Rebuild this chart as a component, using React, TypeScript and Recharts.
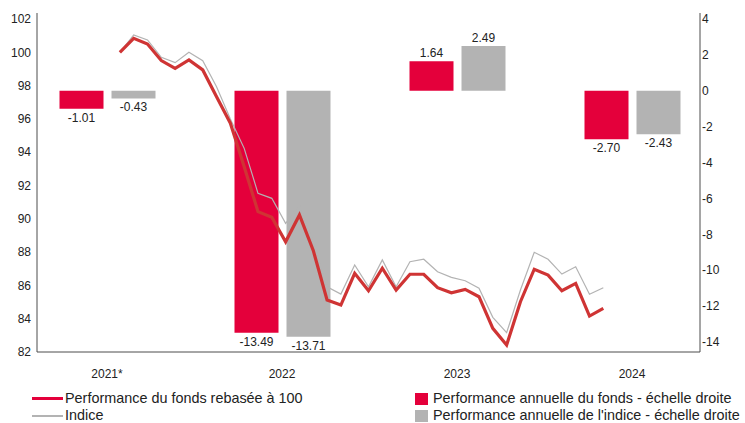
import { ComposedChart, Bar, Line, XAxis, YAxis, LabelList } from "recharts";

// annual performance (right axis)
const years = ["2021*", "2022", "2023", "2024"];
const fundAnnual = [-1.01, -13.49, 1.64, -2.7];
const indexAnnual = [-0.43, -13.71, 2.49, -2.43];

// monthly rebased series (left axis)
const months = [
  "07/2021", "08/2021", "09/2021", "10/2021", "11/2021", "12/2021",
  "01/2022", "02/2022", "03/2022", "04/2022", "05/2022", "06/2022",
  "07/2022", "08/2022", "09/2022", "10/2022", "11/2022", "12/2022",
  "01/2023", "02/2023", "03/2023", "04/2023", "05/2023", "06/2023",
  "07/2023", "08/2023", "09/2023", "10/2023", "11/2023", "12/2023",
  "01/2024", "02/2024", "03/2024", "04/2024", "05/2024", "06/2024",
];
const fundRebased = [
  100, 100.84, 100.5, 99.5, 99.04, 99.54, 98.94, 97.33, 95.74, 93.13, 90.43, 90.09,
  88.62, 90.23, 88.1, 85.12, 84.82, 86.73, 85.68, 87.03, 85.72, 86.67, 86.67, 85.86,
  85.56, 85.76, 85.32, 83.42, 82.42, 85.02, 86.97, 86.62, 85.68, 86.12, 84.16, 84.62,
];
const indexRebased = [
  100, 101.04, 100.74, 99.7, 99.38, 100.0, 99.5, 97.93, 96.0, 94.23, 91.53, 91.23,
  89.73, 90.8, 88.6, 85.92, 85.48, 87.23, 85.92, 87.53, 85.92, 87.42, 87.57, 86.82,
  86.48, 86.28, 85.83, 84.08, 83.16, 85.72, 87.99, 87.57, 86.68, 87.12, 85.47, 85.86,
];

const leftTicks = [82, 84, 86, 88, 90, 92, 94, 96, 98, 100, 102];
const rightTicks = [-14, -12, -10, -8, -6, -4, -2, 0, 2, 4];

const RED = "#e4003b";
const LINE_RED = "#cf3434";
const GREY = "#b3b3b3";
const AXIS = "#4d4d4d";
const FONT = "'Liberation Sans', Arial, sans-serif";

const barData = years.map((y, i) => ({ year: y, fund: fundAnnual[i], index: indexAnnual[i] }));

const lineData = months.map((m, i) => {
  const [mm, yy] = m.split("/").map(Number);
  return { t: (yy - 2021) * 12 + (mm - 1), fund: fundRebased[i], index: indexRebased[i] };
});

function BarLabel(props: any) {
  const { x, y, width, height, value } = props;
  const top = Math.min(y, y + height);
  const bottom = Math.max(y, y + height);
  const ty = value < 0 ? bottom + 13 : top - 4;
  return (
    <text x={x + width / 2} y={ty} textAnchor="middle" fontSize={12} fill="#222" fontFamily={FONT}>
      {value.toFixed(2)}
    </text>
  );
}

function Legend() {
  const row = {
    position: "absolute" as const,
    display: "flex",
    alignItems: "center",
    fontSize: 14.4,
    lineHeight: "13px",
    height: 13,
    color: "#222",
    fontFamily: FONT,
    whiteSpace: "nowrap" as const,
  };
  return (
    <>
      <div style={{ ...row, left: 32, top: 392 }}>
        <span style={{ width: 31, height: 3, background: RED, marginRight: 2 }} />
        Performance du fonds rebasée à 100
      </div>
      <div style={{ ...row, left: 32, top: 409 }}>
        <span style={{ width: 31, height: 2, background: GREY, marginRight: 2 }} />
        Indice
      </div>
      <div style={{ ...row, left: 415, top: 392 }}>
        <span style={{ width: 13, height: 12, background: RED, marginRight: 5 }} />
        Performance annuelle du fonds - échelle droite
      </div>
      <div style={{ ...row, left: 415, top: 409 }}>
        <span style={{ width: 13, height: 12, background: GREY, marginRight: 5 }} />
        Performance annuelle de l'indice - échelle droite
      </div>
    </>
  );
}

export default function App() {
  return (
    <div style={{ position: "relative", width: 745, height: 423, background: "#fff" }}>
      <style>{`body{margin:0}`}</style>
      <ComposedChart
        width={745}
        height={423}
        data={barData}
        margin={{ top: 13, right: 5, bottom: 41, left: 4 }}
        barGap={8}
      >
        <XAxis
          xAxisId="bar"
          dataKey="year"
          type="category"
          padding={{ left: -17.5, right: -19.5 }}
          axisLine={{ stroke: AXIS }}
          tickLine={false}
          tickSize={0}
          tickMargin={17}
          tick={{ fontSize: 12, fill: "#222", fontFamily: FONT }}
          height={30}
        />
        <XAxis xAxisId="line" dataKey="t" type="number" domain={[0, 48]} hide allowDataOverflow />
        <YAxis
          yAxisId="left"
          orientation="left"
          domain={[82, 102.36]}
          ticks={leftTicks}
          allowDataOverflow
          width={33}
          axisLine={{ stroke: AXIS }}
          tickLine={false}
          tickSize={0}
          tickMargin={6}
          tick={{ fontSize: 12, fill: "#222", fontFamily: FONT }}
        />
        <YAxis
          yAxisId="right"
          orientation="right"
          domain={[-14.56, 4.33]}
          ticks={rightTicks}
          allowDataOverflow
          width={40}
          axisLine={{ stroke: AXIS }}
          tickLine={false}
          tickSize={0}
          tickMargin={2}
          tick={{ fontSize: 12, fill: "#222", fontFamily: FONT }}
        />
        <Bar xAxisId="bar" yAxisId="right" dataKey="fund" fill={RED} barSize={44} isAnimationActive={false}>
          <LabelList dataKey="fund" content={<BarLabel />} />
        </Bar>
        <Bar xAxisId="bar" yAxisId="right" dataKey="index" fill={GREY} barSize={44} isAnimationActive={false}>
          <LabelList dataKey="index" content={<BarLabel />} />
        </Bar>
        <Line
          data={lineData}
          xAxisId="line"
          yAxisId="left"
          dataKey="index"
          stroke={GREY}
          strokeWidth={1.2}
          dot={false}
          isAnimationActive={false}
        />
        <Line
          data={lineData}
          xAxisId="line"
          yAxisId="left"
          dataKey="fund"
          stroke={LINE_RED}
          strokeWidth={3.2}
          dot={false}
          isAnimationActive={false}
        />
      </ComposedChart>
      <Legend />
    </div>
  );
}
